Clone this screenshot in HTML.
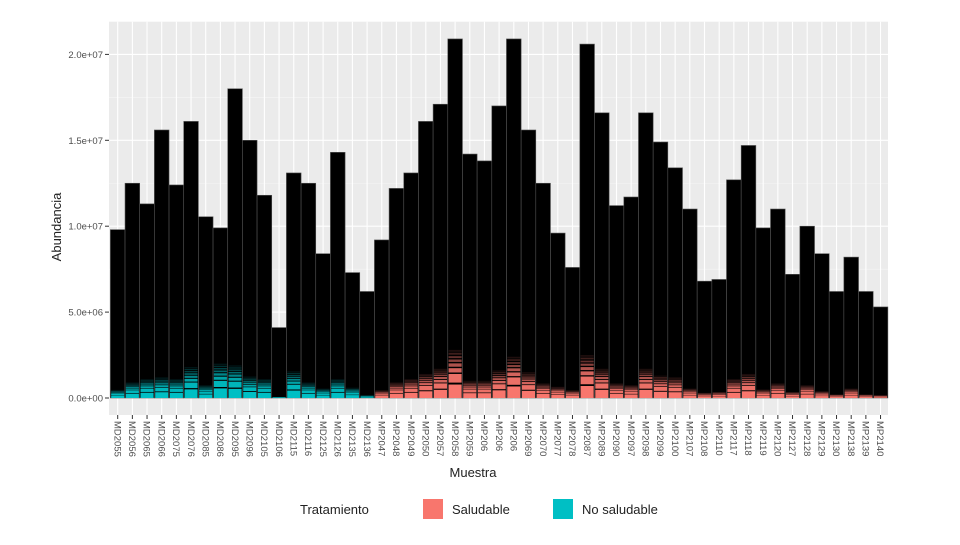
<!DOCTYPE html>
<html><head><meta charset="utf-8"><style>
body{margin:0;background:#fff;width:960px;height:540px;overflow:hidden;font-family:"Liberation Sans",sans-serif}
</style></head><body>
<svg id="chart" width="960" height="540" xmlns="http://www.w3.org/2000/svg">
<rect x="109" y="21.7" width="779" height="393.3" fill="#ebebeb"/>
<g id="grid"></g><g id="bars"></g><g id="axes"></g>
<text x="0" y="0" transform="translate(61,227) rotate(-90)" text-anchor="middle" font-size="13" fill="#222">Abundancia</text>
<text x="473" y="477" text-anchor="middle" font-size="13" fill="#222">Muestra</text>
<g>
<text x="300" y="514" font-size="13" fill="#222">Tratamiento</text>
<rect x="423" y="499" width="20" height="20" fill="#f8766d"/>
<text x="452" y="514" font-size="13" fill="#222">Saludable</text>
<rect x="553" y="499" width="20" height="20" fill="#00bfc4"/>
<text x="582" y="514" font-size="13" fill="#222">No saludable</text>
</g>
</svg>
<script>
const samples=["MD2055","MD2056","MD2065","MD2066","MD2075","MD2076","MD2085","MD2086","MD2095","MD2096","MD2105","MD2106","MD2115","MD2116","MD2125","MD2126","MD2135","MD2136","MP2047","MP2048","MP2049","MP2050","MP2057","MP2058","MP2059","MP206","MP206","MP206","MP2069","MP2070","MP2077","MP2078","MP2087","MP2089","MP2090","MP2097","MP2098","MP2099","MP2100","MP2107","MP2108","MP2110","MP2117","MP2118","MP2119","MP2120","MP2127","MP2128","MP2129","MP2130","MP2138","MP2139","MP2140"];
const totals=[9.8,12.5,11.3,15.6,12.4,16.1,10.55,9.9,18.0,15.0,11.8,4.1,13.1,12.5,8.4,14.3,7.3,6.2,9.2,12.2,13.1,16.1,17.1,20.9,14.2,13.8,17.0,20.9,15.6,12.5,9.6,7.6,20.6,16.6,11.2,11.7,16.6,14.9,13.4,11.0,6.8,6.9,12.7,14.7,9.9,11.0,7.2,10.0,8.4,6.2,8.2,6.2,5.3];
const colored=[0.47,0.9,1.1,1.2,1.1,1.8,0.75,2.0,1.9,1.25,1.1,0.05,1.55,0.9,0.55,1.1,0.6,0.15,0.45,0.9,1.1,1.4,1.7,2.8,1.0,1.0,1.6,2.4,1.5,0.85,0.65,0.45,2.5,1.7,0.85,0.75,1.7,1.3,1.2,0.55,0.3,0.35,1.1,1.4,0.5,0.85,0.35,0.75,0.4,0.2,0.55,0.2,0.15];
const yTicks=[0,5,10,15,20];
const yTickLabels=["0.0e+00","5.0e+06","1.0e+07","1.5e+07","2.0e+07"];
const NS="http://www.w3.org/2000/svg";
const step=14.67,x0=117.7;
const xc=i=>x0+i*step;
const y=v=>398-v*17.18;
function mk(tag,at,parent){const e=document.createElementNS(NS,tag);for(const k in at)e.setAttribute(k,at[k]);document.getElementById(parent).appendChild(e);return e;}
for(let v=2.5;v<22;v+=5){const g=mk('line',{x1:109,x2:888,y1:y(v),y2:y(v),stroke:'#f5f5f5','stroke-width':0.6},'grid');

}
yTicks.forEach((t,i)=>{const g=mk('line',{x1:109,x2:888,y1:y(t),y2:y(t),stroke:'#fff','stroke-width':1.1},'grid');


const tk=mk('line',{x1:105,x2:109,y1:y(t),y2:y(t),stroke:'#333'},'axes');


const l=mk('text',{x:103,y:y(t)+3.5,'text-anchor':'end','font-size':9.5,fill:'#4d4d4d'},'axes');l.textContent=yTickLabels[i];

});
samples.forEach((s,i)=>{const g=mk('line',{x1:xc(i),x2:xc(i),y1:21.7,y2:415,stroke:'#fff','stroke-width':1.1},'grid');


const w=step,bx=xc(i)-w/2;
const col=s.startsWith('MD')?'#00bfc4':'#f8766d';
const b=mk('rect',{x:bx,y:y(totals[i]),width:w,height:y(0)-y(totals[i]),fill:'#000',stroke:'#555','stroke-width':0.6},'bars');


const ch=y(0)-y(colored[i]);
const fr=[[0,0.28,1],[0.32,0.5,0.95],[0.53,0.62,0.85],[0.65,0.72,0.7],[0.75,0.8,0.55],[0.83,0.87,0.4],[0.9,0.94,0.25],[0.96,1,0.12]];
fr.forEach(f=>{const r=mk('rect',{x:bx+0.8,y:y(0)-ch*f[1],width:w-1.6,height:Math.max(0.3,ch*(f[1]-f[0])),fill:col,opacity:f[2]},'bars');

});
const tk=mk('line',{x1:xc(i),x2:xc(i),y1:415,y2:419,stroke:'#333'},'axes');


const l=mk('text',{transform:`translate(${xc(i)-3.3},421) rotate(90)`,'font-size':9.5,fill:'#4d4d4d'},'axes');l.textContent=s;

});
</script>
</body></html>
